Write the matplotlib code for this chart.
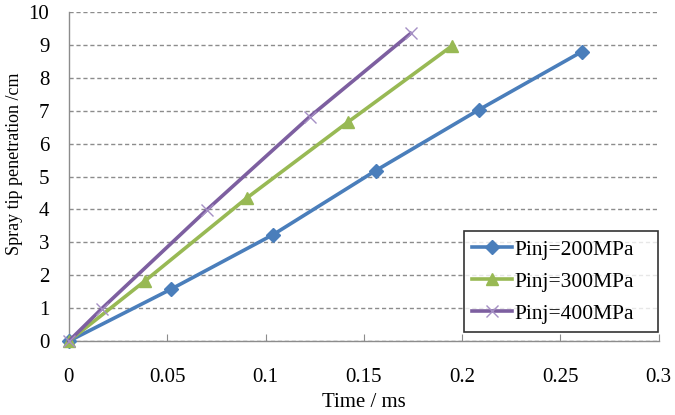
import matplotlib
matplotlib.use('Agg')
import matplotlib.pyplot as plt

# Spray tip penetration vs time for three injection pressures
t_200 = [0, 0.052, 0.104, 0.156, 0.2085, 0.261]
s_200 = [0, 1.58, 3.24, 5.18, 7.03, 8.8]

t_300 = [0, 0.0385, 0.0905, 0.142, 0.1948]
s_300 = [0, 1.82, 4.35, 6.66, 8.97]

t_400 = [0, 0.0168, 0.070, 0.1225, 0.1738]
s_400 = [0, 0.99, 3.98, 6.82, 9.35]

labels = ['Pinj=200MPa', 'Pinj=300MPa', 'Pinj=400MPa']
x_ticks = [0, 0.05, 0.1, 0.15, 0.2, 0.25, 0.3]
x_tick_labels = ['0', '0.05', '0.1', '0.15', '0.2', '0.25', '0.3']
y_ticks = list(range(0, 11))

plt.rcParams['font.family'] = ['Liberation Serif', 'DejaVu Serif']

fig = plt.figure(figsize=(6.75, 4.15), dpi=100)
ax = fig.add_axes([0.102, 0.178, 0.874, 0.793])

ax.plot(t_200, s_200, color='#4a7ebb', lw=2.6, marker='D', ms=7,
        label=labels[0], clip_on=False, zorder=3)
ax.plot(t_300, s_300, color='#98b954', lw=2.6, marker='^', ms=9,
        label=labels[1], clip_on=False, zorder=3)
ax.plot(t_400, s_400, color='#7d5fa0', lw=2.6, marker='x', ms=9,
        mew=1.0, mec='#a58fc4', label=labels[2], clip_on=False, zorder=3)

ax.set_xlim(0, 0.3)
ax.set_ylim(0, 10)
ax.set_xticks(x_ticks)
ax.set_xticklabels(x_tick_labels)
ax.set_yticks(y_ticks)

ax.yaxis.grid(True, ls=(0, (3, 2)), color='#8c8c8c', lw=1.0)
ax.set_axisbelow(True)

for side in ['top', 'right']:
    ax.spines[side].set_visible(False)
for side in ['left', 'bottom']:
    ax.spines[side].set_color('#8c8c8c')
    ax.spines[side].set_linewidth(1.0)

ax.tick_params(axis='x', direction='in', length=5, color='#8c8c8c',
               pad=19, labelsize=15)
ax.tick_params(axis='y', length=0, pad=14, labelsize=15)

ax.set_xlabel('Time / ms', fontsize=15, labelpad=5)
ax.set_ylabel('Spray tip penetration /cm', fontsize=13)
ax.yaxis.set_label_coords(-0.078, 0.538)

leg = ax.legend(loc='lower left', bbox_to_anchor=(0.6695, 0.027, 0.329, 0.3),
                mode='expand', fontsize=15.5, frameon=True, fancybox=False,
                handlelength=1.85, handletextpad=0.1, labelspacing=0.55,
                borderpad=0.4, borderaxespad=0)
leg.get_frame().set_edgecolor('black')
leg.get_frame().set_linewidth(1.2)

fig.savefig('out.png', dpi=100)
